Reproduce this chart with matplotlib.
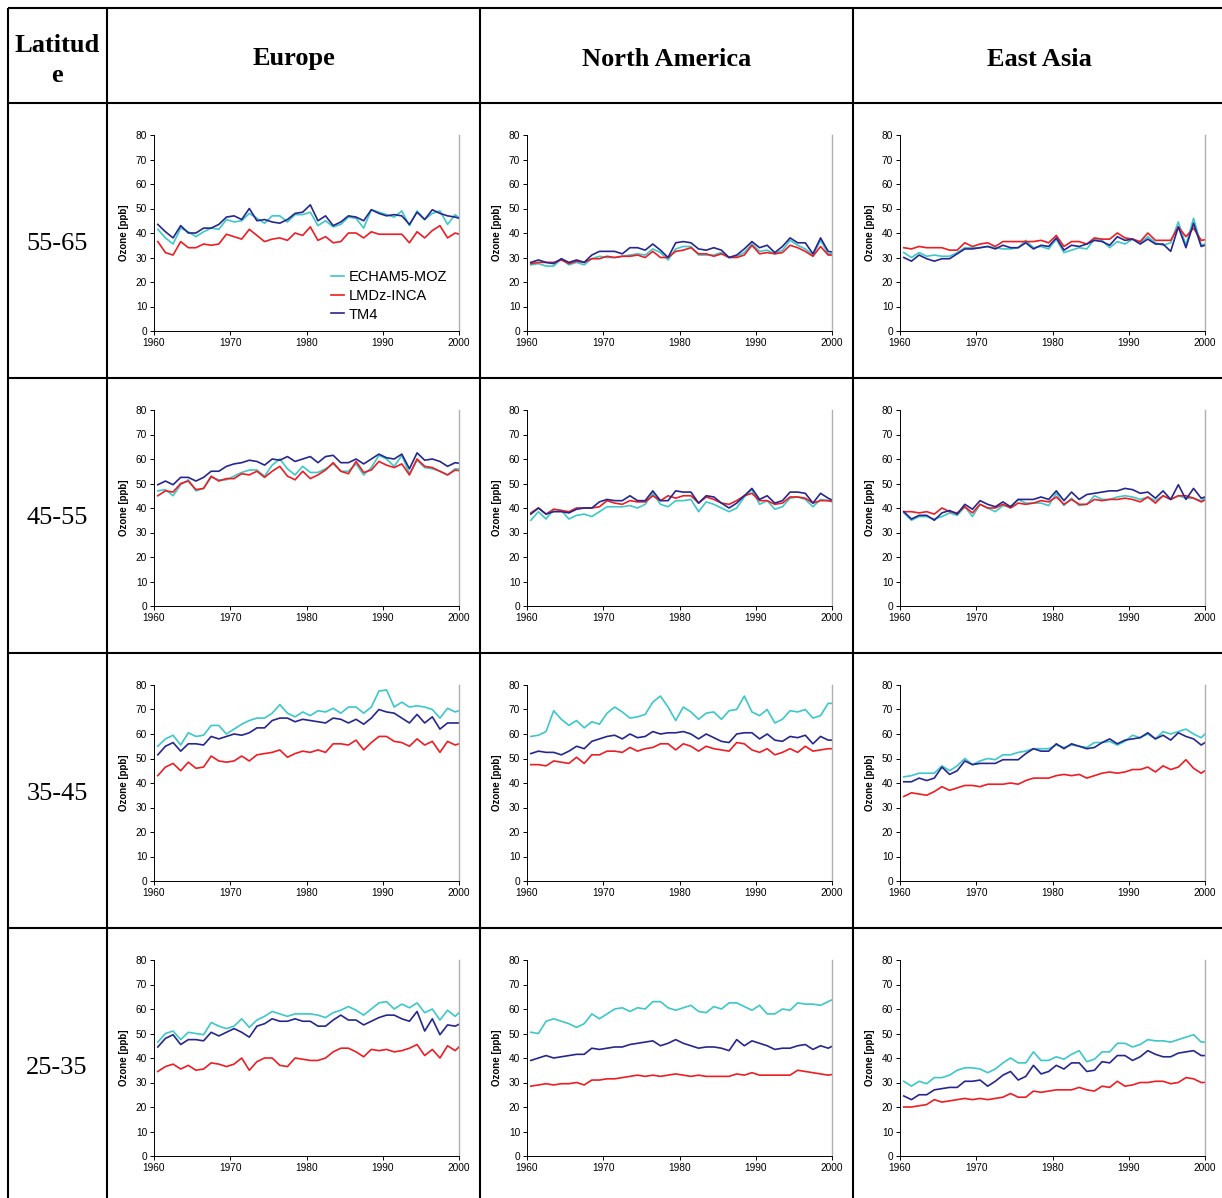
import numpy as np
import matplotlib
matplotlib.use("Agg")
import matplotlib.pyplot as plt

plt.rcParams['font.family'] = ['Liberation Sans', 'DejaVu Sans']

years = np.arange(1960, 2001)
regions = ["Europe", "North America", "East Asia"]
latitudes = ["55-65", "45-55", "35-45", "25-35"]
models = ["ECHAM5-MOZ", "LMDz-INCA", "TM4"]

# ---- Europe ----
eu_5565_echam = [41.5, 38, 35.5, 42, 40.5, 38.5, 40.5, 42, 41.5, 45.5, 44.5, 45, 48, 46, 44, 47, 47, 44.5, 47.5, 47.5, 48.5, 43, 45, 42.5, 43.5, 46.5, 46, 42, 49.5, 48.5, 47.5, 46.5, 49, 43, 49, 45.5, 48, 49, 43.5, 47.5, 45]
eu_5565_lmdz = [36.5, 32, 31, 36.5, 34, 34, 35.5, 35, 35.5, 39.5, 38.5, 37.5, 41.5, 39, 36.5, 37.5, 38, 37, 40, 39, 42.5, 37, 38.5, 36, 36.5, 40, 40, 38, 40.5, 39.5, 39.5, 39.5, 39.5, 36, 40.5, 38, 41, 43, 38, 40, 39]
eu_5565_tm4 = [43.5, 40.5, 38, 43, 40, 40, 42, 42, 43.5, 46.5, 47, 45.5, 50, 45, 45.5, 44.5, 44, 45.5, 48, 48.5, 51.5, 45, 47, 43, 44.5, 47, 46.5, 45, 49.5, 48, 47, 47.5, 47, 43.5, 48.5, 45.5, 49.5, 48, 47, 46.5, 45.5]

eu_4555_echam = [47, 47.5, 45, 49.5, 51.5, 47, 48, 52.5, 51.5, 51.5, 53, 54.5, 55.5, 55.5, 53, 57.5, 60, 56, 53.5, 57, 54.5, 54.5, 56, 58, 55, 55, 58, 53.5, 56.5, 61.5, 60, 57, 61.5, 54, 59.5, 56.5, 56, 55, 53.5, 56, 56]
eu_4555_lmdz = [45, 47, 46.5, 50, 51, 47.5, 48, 53, 51, 52, 52, 54, 53.5, 55, 52.5, 55, 57, 53, 51.5, 55, 52, 53.5, 55.5, 58.5, 55, 54, 59, 54.5, 55.5, 59, 57.5, 56.5, 58, 53.5, 60, 57, 56.5, 55, 53.5, 55.5, 55]
eu_4555_tm4 = [49.5, 51, 49.5, 52.5, 52.5, 51, 52.5, 55, 55, 57, 58, 58.5, 59.5, 59, 57.5, 60, 59.5, 61, 59, 60, 61, 58.5, 61, 61.5, 58.5, 58.5, 60, 58, 60, 62, 60.5, 60, 62, 56, 62.5, 59.5, 60, 59, 57, 58.5, 58]

eu_3545_echam = [55, 58, 59.5, 55.5, 60.5, 59, 59.5, 63.5, 63.5, 60, 62, 64, 65.5, 66.5, 66.5, 68.5, 72, 68.5, 67, 69, 67.5, 69.5, 69, 70.5, 68.5, 71, 71, 68.5, 71, 77.5, 78, 71, 73, 71, 71.5, 71, 70, 66.5, 70.5, 69, 70]
eu_3545_lmdz = [43, 46.5, 48, 45, 48.5, 46, 46.5, 51, 49, 48.5, 49, 51, 49, 51.5, 52, 52.5, 53.5, 50.5, 52, 53, 52.5, 53.5, 52.5, 56, 56, 55.5, 57.5, 53.5, 56.5, 59, 59, 57, 56.5, 55, 58, 55.5, 57, 52.5, 57, 55.5, 56.5]
eu_3545_tm4 = [51.5, 55, 56.5, 53, 56, 56, 55.5, 59, 58, 59, 60, 59.5, 60.5, 62.5, 62.5, 65.5, 66.5, 66.5, 65, 66, 65.5, 65, 64.5, 66.5, 66, 64.5, 66, 64, 66.5, 70, 69, 68.5, 66.5, 64.5, 68, 64.5, 67, 62, 64.5, 64.5, 64.5]

eu_2535_echam = [46.5, 50, 51, 47.5, 50.5, 50, 49.5, 54.5, 53, 52, 53, 56, 52.5, 55.5, 57, 59, 58, 57, 58, 58, 58, 57.5, 56.5, 58.5, 59.5, 61, 59.5, 57.5, 60, 62.5, 63, 60, 62, 60.5, 62.5, 58.5, 60, 55.5, 59.5, 57, 60]
eu_2535_lmdz = [34.5, 36.5, 37.5, 35.5, 37, 35, 35.5, 38, 37.5, 36.5, 37.5, 40, 35, 38.5, 40, 40, 37, 36.5, 40, 39.5, 39, 39, 40, 42.5, 44, 44, 42.5, 40.5, 43.5, 43, 43.5, 42.5, 43, 44, 45.5, 41, 43.5, 40, 45, 43, 46]
eu_2535_tm4 = [44.5, 48, 49.5, 45.5, 47.5, 47.5, 47, 50.5, 49, 50.5, 52, 50.5, 48.5, 53, 54, 56, 55, 55, 56, 55, 55, 53, 53, 55.5, 57.5, 55.5, 55.5, 53.5, 55, 56.5, 57.5, 57.5, 56, 55, 59, 51, 56, 49.5, 53.5, 53, 54.5]

# ---- North America ----
na_5565_echam = [27, 27.5, 26.5, 26.5, 29.5, 27, 28, 27, 29.5, 30.5, 30, 30, 30.5, 31, 31.5, 31, 33.5, 32, 29, 33.5, 34.5, 34.5, 31, 31, 31, 32, 30, 30.5, 32, 35.5, 32.5, 33, 31.5, 33, 37, 35, 33.5, 31, 37, 31.5, 31.5]
na_5565_lmdz = [27.5, 28, 28, 28, 29, 27.5, 28.5, 28, 29.5, 29.5, 30.5, 30, 30.5, 30.5, 31, 30, 32.5, 30, 30, 32.5, 33, 34, 31.5, 31.5, 30.5, 31.5, 30, 30, 31, 35, 31.5, 32, 31.5, 32, 35, 34, 32.5, 30.5, 34.5, 31, 31]
na_5565_tm4 = [28, 29, 28, 27.5, 29.5, 28, 29, 28, 31, 32.5, 32.5, 32.5, 31.5, 34, 34, 33, 35.5, 33, 30, 36, 36.5, 36, 33.5, 33, 34, 33, 30, 31, 33.5, 36.5, 34, 35, 32, 34.5, 38, 36, 36, 31.5, 38, 32.5, 32]

na_4555_echam = [35, 38.5, 35.5, 39.5, 39, 35.5, 37, 37.5, 36.5, 38.5, 40.5, 40.5, 40.5, 41, 40, 41.5, 46, 41.5, 40.5, 43, 43, 43.5, 38.5, 42.5, 41.5, 40, 38.5, 40, 44.5, 47.5, 41.5, 43, 39.5, 40.5, 44, 44.5, 43.5, 40.5, 43.5, 43, 42]
na_4555_lmdz = [38, 40, 37.5, 39.5, 39, 38.5, 40, 40, 40, 40.5, 43, 42, 41.5, 43, 42.5, 42.5, 45, 43, 45, 44, 45, 45, 42, 44.5, 43.5, 42, 41.5, 43, 45, 46, 43, 43, 41.5, 42, 44.5, 44.5, 44, 42, 43, 43, 42.5]
na_4555_tm4 = [37.5, 40, 37.5, 38.5, 38.5, 38, 39.5, 40, 40, 42.5, 43.5, 43, 43, 45, 43, 43, 47, 43, 43, 47, 46.5, 46.5, 42, 45, 44.5, 42, 40, 42, 45, 48, 43.5, 45, 42, 43, 46.5, 46.5, 46, 42, 46, 44, 42.5]

na_3545_echam = [59, 59.5, 61, 69.5, 66, 63.5, 65.5, 62.5, 65, 64, 68.5, 71, 69, 66.5, 67, 68, 73, 75.5, 71, 65.5, 71, 69, 66, 68.5, 69, 66, 69.5, 70, 75.5, 69, 67.5, 70, 64.5, 66, 69.5, 69, 70, 66.5, 67.5, 72.5, 72.5]
na_3545_lmdz = [47.5, 47.5, 47, 49, 48.5, 48, 50.5, 48, 51.5, 51.5, 53, 53, 52.5, 54.5, 53, 54, 54.5, 56, 56, 53.5, 56, 55, 53, 55, 54, 53.5, 53, 56.5, 56, 53.5, 52.5, 54, 51.5, 52.5, 54, 52.5, 55, 53, 53.5, 54, 54]
na_3545_tm4 = [52, 53, 52.5, 52.5, 51.5, 53, 55, 54, 57, 58, 59, 59.5, 58, 60, 58.5, 59, 61, 60, 60.5, 60.5, 61, 60, 58, 60, 58.5, 57, 56.5, 60, 60.5, 60.5, 58, 60, 57.5, 57, 59, 58.5, 59.5, 56, 59, 57.5, 57.5]

na_2535_echam = [50.5, 50, 55, 56, 55, 54, 52.5, 54, 58, 56, 58, 60, 60.5, 59, 60.5, 60, 63, 63, 60.5, 59.5, 60.5, 61.5, 59, 58.5, 61, 60, 62.5, 62.5, 61, 59.5, 61.5, 58, 58, 60, 59.5, 62.5, 62, 62, 61.5, 63, 64.5]
na_2535_lmdz = [28.5, 29, 29.5, 29, 29.5, 29.5, 30, 29, 31, 31, 31.5, 31.5, 32, 32.5, 33, 32.5, 33, 32.5, 33, 33.5, 33, 32.5, 33, 32.5, 32.5, 32.5, 32.5, 33.5, 33, 34, 33, 33, 33, 33, 33, 35, 34.5, 34, 33.5, 33, 33.5]
na_2535_tm4 = [39, 40, 41, 40, 40.5, 41, 41.5, 41.5, 44, 43.5, 44, 44.5, 44.5, 45.5, 46, 46.5, 47, 45, 46, 47.5, 46, 45, 44, 44.5, 44.5, 44, 43, 47.5, 45, 47, 46, 45, 43.5, 44, 44, 45, 45.5, 43.5, 45, 44, 45.5]

# ---- East Asia ----
ea_5565_echam = [32, 30, 32, 30.5, 31, 30.5, 30.5, 32, 34, 34, 34, 34.5, 34, 33.5, 33.5, 34, 37, 34, 34.5, 33.5, 37.5, 32, 33, 34, 33.5, 37.5, 37, 34, 36.5, 35.5, 37.5, 36, 38.5, 36, 35, 36, 44.5, 35, 46, 35, 36]
ea_5565_lmdz = [34, 33.5, 34.5, 34, 34, 34, 33, 33, 36, 34.5, 35.5, 36, 34.5, 36.5, 36.5, 36.5, 36.5, 36.5, 37, 36, 39, 34.5, 36.5, 36.5, 35.5, 38, 37.5, 37.5, 40, 38, 37.5, 36.5, 40, 37, 37, 37, 42.5, 38.5, 42, 37, 37.5]
ea_5565_tm4 = [30, 28.5, 31, 29.5, 28.5, 29.5, 29.5, 31.5, 33.5, 33.5, 34, 34.5, 33.5, 35, 34, 34, 36, 33.5, 35, 34.5, 38, 33, 35, 34.5, 35.5, 37, 36.5, 35, 38.5, 37, 37.5, 35.5, 37.5, 35.5, 35.5, 32.5, 42.5, 34, 44, 34.5, 35.5]

ea_4555_echam = [38, 35, 36.5, 36.5, 35.5, 36.5, 38, 37, 40.5, 36.5, 41.5, 40, 38.5, 41, 40.5, 43.5, 42, 42, 42, 41, 46, 41, 44, 41, 41.5, 45, 43.5, 43.5, 44.5, 45, 44.5, 43.5, 44.5, 43, 45, 43.5, 45, 44, 44, 43, 45]
ea_4555_lmdz = [38.5, 38.5, 38, 38.5, 37.5, 40, 38.5, 38, 40.5, 38, 41.5, 40, 40, 41.5, 40, 42, 41.5, 42, 43, 42.5, 44.5, 41.5, 43.5, 41.5, 41.5, 43.5, 43, 43.5, 43.5, 44, 43.5, 42.5, 44.5, 42, 45, 43.5, 45, 45, 44, 42.5, 44]
ea_4555_tm4 = [38.5, 35.5, 37, 37, 35, 38, 39, 37.5, 41.5, 39.5, 43, 41.5, 40.5, 42.5, 40.5, 43.5, 43.5, 43.5, 44.5, 43.5, 47, 43, 46.5, 43.5, 45.5, 46, 46.5, 47, 47, 48, 47.5, 46, 46.5, 44, 47, 43.5, 49.5, 43.5, 48, 44, 45]

ea_3545_echam = [42.5, 43, 44, 44, 44, 47, 45, 47, 50, 47.5, 49, 50, 49.5, 51.5, 51.5, 52.5, 53, 54, 54, 54, 55.5, 54.5, 55.5, 55, 54.5, 56.5, 56.5, 57, 55.5, 57, 59.5, 58.5, 60, 58, 61, 60, 61, 62, 60, 58.5, 61.5]
ea_3545_lmdz = [34.5, 36, 35.5, 35, 36.5, 38.5, 37, 38, 39, 39, 38.5, 39.5, 39.5, 39.5, 40, 39.5, 41, 42, 42, 42, 43, 43.5, 43, 43.5, 42, 43, 44, 44.5, 44, 44.5, 45.5, 45.5, 46.5, 44.5, 47, 45.5, 46.5, 49.5, 46, 44, 46]
ea_3545_tm4 = [40.5, 40.5, 42, 41, 42, 46.5, 43.5, 45, 49, 47.5, 48, 48, 48, 49.5, 49.5, 49.5, 52, 54, 53, 53, 56, 54, 56, 55, 54, 54.5, 56.5, 58, 56, 57.5, 58, 58.5, 60.5, 58, 59.5, 57.5, 60.5, 59, 58, 55.5, 57.5]

ea_2535_echam = [30.5, 28.5, 30.5, 29.5, 32, 32, 33, 35, 36, 36, 35.5, 34, 35.5, 38, 40, 38, 38, 42.5, 39, 39, 40.5, 39.5, 41.5, 43, 38.5, 39.5, 42.5, 42.5, 46, 46, 44.5, 45.5, 47.5, 47, 47, 46.5, 47.5, 48.5, 49.5, 46.5, 46.5]
ea_2535_lmdz = [20, 20, 20.5, 21, 23, 22, 22.5, 23, 23.5, 23, 23.5, 23, 23.5, 24, 25.5, 24, 24, 26.5, 26, 26.5, 27, 27, 27, 28, 27, 26.5, 28.5, 28, 30.5, 28.5, 29, 30, 30, 30.5, 30.5, 29.5, 30, 32, 31.5, 30, 30]
ea_2535_tm4 = [24.5, 23, 25, 25, 27, 27.5, 28, 28, 30.5, 30.5, 31, 28.5, 30.5, 33, 34.5, 31, 32.5, 37, 33.5, 34.5, 37, 35.5, 38, 38, 34.5, 35, 38.5, 38, 41, 41, 39, 40.5, 43, 41.5, 40.5, 40.5, 42, 42.5, 43, 41, 41]

panels = [
    [(eu_5565_echam, eu_5565_lmdz, eu_5565_tm4), (na_5565_echam, na_5565_lmdz, na_5565_tm4), (ea_5565_echam, ea_5565_lmdz, ea_5565_tm4)],
    [(eu_4555_echam, eu_4555_lmdz, eu_4555_tm4), (na_4555_echam, na_4555_lmdz, na_4555_tm4), (ea_4555_echam, ea_4555_lmdz, ea_4555_tm4)],
    [(eu_3545_echam, eu_3545_lmdz, eu_3545_tm4), (na_3545_echam, na_3545_lmdz, na_3545_tm4), (ea_3545_echam, ea_3545_lmdz, ea_3545_tm4)],
    [(eu_2535_echam, eu_2535_lmdz, eu_2535_tm4), (na_2535_echam, na_2535_lmdz, na_2535_tm4), (ea_2535_echam, ea_2535_lmdz, ea_2535_tm4)],
]

colors = ['#3cc8c8', '#ee1d23', '#26268e']

W, H = 1222, 1198
fig = plt.figure(figsize=(W / 100, H / 100), dpi=100)
fig.patch.set_facecolor('white')

# Table overlay
ov = fig.add_axes([0, 0, 1, 1])
ov.set_xlim(0, W)
ov.set_ylim(H, 0)
ov.axis('off')
col_x = [8, 107, 480, 853]
row_y = [8, 103, 378, 653, 928]
for x in col_x:
    ov.plot([x, x], [8, H + 5], color='black', lw=1.5, solid_capstyle='butt')
for y in row_y:
    ov.plot([8, W + 5], [y, y], color='black', lw=1.5, solid_capstyle='butt')

serif = ['Liberation Serif', 'DejaVu Serif']
ov.text(57, 45, "Latitud", ha='center', va='center', fontsize=19, fontweight='bold', family=serif)
ov.text(57, 75, "e", ha='center', va='center', fontsize=19, fontweight='bold', family=serif)
for i, reg in enumerate(regions):
    cx = (col_x[i + 1] + (col_x[i + 2] if i + 2 < len(col_x) else 1226)) / 2
    ov.text(cx, 59, reg, ha='center', va='center', fontsize=19, fontweight='bold', family=serif)
for j, lat in enumerate(latitudes):
    cy = (row_y[j + 1] + (row_y[j + 2] if j + 2 < len(row_y) else 1203)) / 2
    ov.text(57, cy + 3, lat, ha='center', va='center', fontsize=19, family=serif)

ax_left = [154, 527, 900]
ax_top = [135, 410, 685, 960]
aw, ah = 305, 196
xpos = years + 0.5

for r in range(4):
    for c in range(3):
        ax = fig.add_axes([ax_left[c] / W, 1 - (ax_top[r] + ah) / H, aw / W, ah / H])
        for k, series in enumerate(panels[r][c]):
            ax.plot(xpos, series, color=colors[k], lw=1.2, label=models[k])
        ax.set_xlim(1960, 2000)
        ax.set_ylim(0, 80)
        ax.set_xticks(np.arange(1960, 2001, 10))
        ax.set_yticks(np.arange(0, 81, 10))
        ax.tick_params(labelsize=7.3, length=3, width=0.7, pad=2)
        ax.spines['top'].set_visible(False)
        ax.spines['right'].set_color('#b0b0b0')
        ax.spines['right'].set_linewidth(1.0)
        ax.spines['left'].set_linewidth(0.7)
        ax.spines['bottom'].set_linewidth(0.7)
        ax.set_ylabel("Ozone [ppb]", fontsize=7, fontweight='bold', labelpad=5)
        if r == 0 and c == 0:
            ax.legend(loc='upper left', bbox_to_anchor=(0.58, 0.31), frameon=False,
                      fontsize=10.5, handlelength=0.9, handletextpad=0.3,
                      labelspacing=0.32, borderpad=0, borderaxespad=0)

fig.savefig("out.png", dpi=100)
